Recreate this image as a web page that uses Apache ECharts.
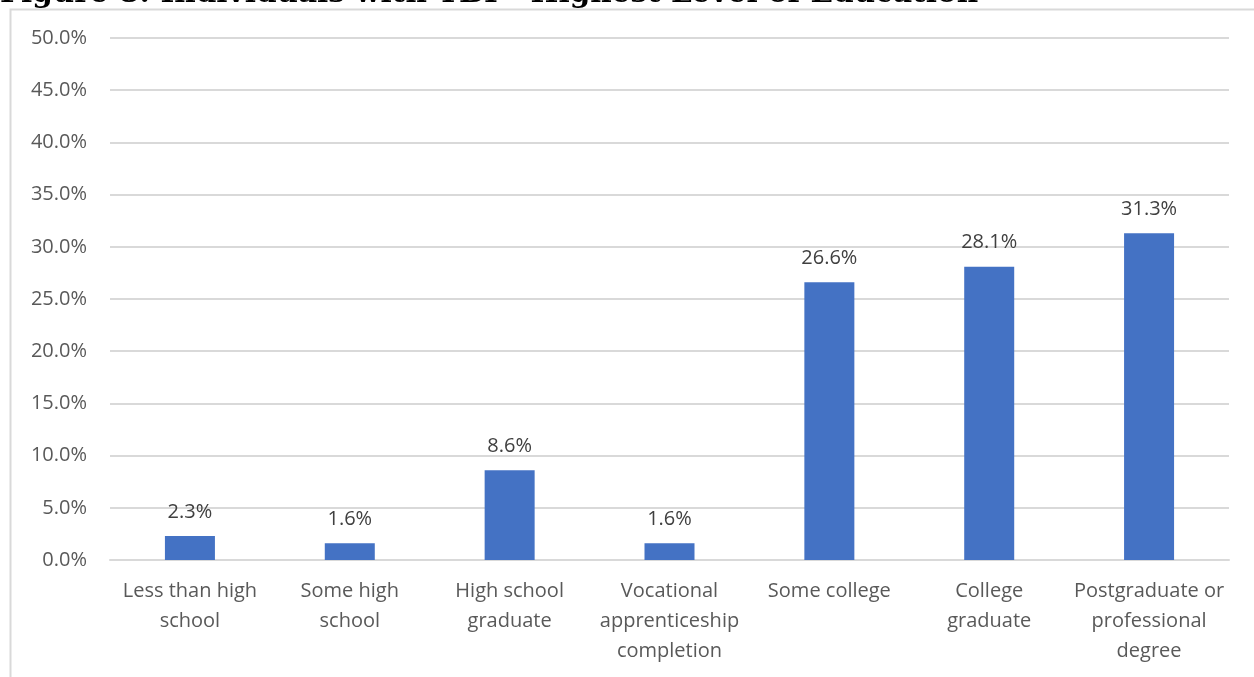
<!DOCTYPE html>
<html>
<head>
<meta charset="utf-8">
<script src="https://cdn.jsdelivr.net/npm/echarts@6/dist/echarts.min.js"></script>
<style>
  html, body { margin: 0; padding: 0; background: #ffffff; }
  #chart { width: 1254px; height: 677px; }
</style>
</head>
<body>
<div id="chart"></div>
<script>
// Highest level of education, share of individuals with TBI
const categories = [
  'Less than high\nschool',
  'Some high\nschool',
  'High school\ngraduate',
  'Vocational\napprenticeship\ncompletion',
  'Some college',
  'College\ngraduate',
  'Postgraduate or\nprofessional\ndegree'
];
const shares = [2.3, 1.6, 8.6, 1.6, 26.6, 28.1, 31.3];
const titleText = 'Figure 8: Individuals with TBI - Highest Level of Education';

const chart = echarts.init(document.getElementById('chart'), null, { renderer: 'canvas' });
chart.setOption({
  animation: false,
  backgroundColor: '#ffffff',
  title: {
    text: titleText,
    left: 0,
    top: -21,
    padding: 0,
    textStyle: {
      fontFamily: 'DejaVu Serif',
      fontWeight: 'bold',
      fontSize: 29.5,
      color: '#000000'
    }
  },
  graphic: [{
    type: 'rect',
    z: -1,
    shape: { x: 10.5, y: 9.5, width: 1400, height: 800 },
    style: { fill: 'none', stroke: '#d9d9d9', lineWidth: 2 }
  }],
  grid: { left: 110, right: 25, top: 38, bottom: 117 },
  xAxis: {
    type: 'category',
    data: categories,
    axisLine: { show: true, lineStyle: { color: '#d9d9d9', width: 2 } },
    axisTick: { show: false },
    axisLabel: {
      interval: 0,
      margin: 16,
      fontFamily: 'Open Sans',
      fontSize: 20,
      lineHeight: 30,
      color: '#595959'
    }
  },
  yAxis: {
    type: 'value',
    min: 0,
    max: 50,
    interval: 5,
    axisLine: { show: false },
    axisTick: { show: false },
    splitLine: { lineStyle: { color: '#d9d9d9', width: 2 } },
    axisLabel: {
      margin: 23,
      fontFamily: 'Open Sans',
      fontSize: 20,
      color: '#595959',
      formatter: v => v.toFixed(1) + '%'
    }
  },
  series: [{
    type: 'bar',
    data: shares,
    barWidth: 50,
    itemStyle: { color: '#4472C4' },
    label: {
      show: true,
      position: 'top',
      distance: 14,
      fontFamily: 'Open Sans',
      fontSize: 20,
      color: '#404040',
      formatter: p => p.value.toFixed(1) + '%'
    }
  }]
});
</script>
</body>
</html>
